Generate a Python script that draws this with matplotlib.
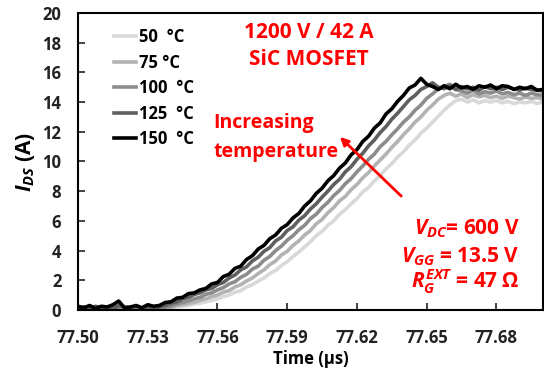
import numpy as np
import matplotlib.pyplot as plt

plt.rcParams['font.family'] = ['Open Sans', 'DejaVu Sans']
plt.rcParams['mathtext.fontset'] = 'custom'
plt.rcParams['mathtext.it'] = 'Open Sans:italic:bold'
plt.rcParams['mathtext.rm'] = 'Open Sans:bold'
plt.rcParams['mathtext.bf'] = 'Open Sans:bold'

# time grid (us), 0.0025 us step
t = 77.50 + 0.0025 * np.arange(81)

i_50 = [0.05, 0.1, 0.05, 0.0, 0.1, 0.05, 0.1, 0.05, 0.0, 0.1, 0.05, 0.1, 0.05, 0.0,
        0.05, 0.1, 0.15, 0.2, 0.25, 0.3, 0.4,
        0.45, 0.55, 0.65, 0.75, 0.9, 1.0, 1.2, 1.3, 1.55, 1.7,
        1.95, 2.15, 2.45, 2.65, 3.0, 3.25, 3.6, 3.9, 4.25, 4.6,
        5.0, 5.3, 5.7, 6.0, 6.45, 6.75, 7.15, 7.5, 7.95, 8.25,
        8.7, 9.05, 9.5, 9.85, 10.3, 10.65, 11.1, 11.45, 11.9, 12.25,
        12.65, 13.05, 13.45, 13.8, 14.1, 14.2, 14.0, 14.15, 13.95, 14.1,
        14.0, 14.1, 13.95, 14.05, 13.9, 14.0, 13.95, 14.05, 13.9, 14.0]
i_75 = [0.1, 0.05, 0.1, 0.15, 0.05, 0.1, 0.05, 0.15, 0.1, 0.05, 0.15, 0.1, 0.05, 0.1,
        0.1, 0.15, 0.2, 0.3, 0.35, 0.45, 0.5,
        0.65, 0.75, 0.9, 1.0, 1.2, 1.3, 1.55, 1.7, 1.95, 2.15,
        2.45, 2.7, 3.05, 3.3, 3.7, 3.95, 4.35, 4.65, 5.05, 5.35,
        5.8, 6.1, 6.55, 6.9, 7.35, 7.65, 8.1, 8.45, 8.9, 9.25,
        9.7, 10.1, 10.5, 10.95, 11.35, 11.8, 12.2, 12.65, 13.0, 13.45,
        13.8, 14.2, 14.45, 14.6, 14.4, 14.55, 14.3, 14.5, 14.35, 14.45,
        14.3, 14.4, 14.25, 14.4, 14.3, 14.2, 14.35, 14.25, 14.3, 14.2]
i_100 = [0.1, 0.15, 0.05, 0.2, 0.1, 0.15, 0.1, 0.2, 0.15, 0.1, 0.2, 0.05, 0.15, 0.1,
         0.15, 0.2, 0.25, 0.4, 0.5, 0.6, 0.75,
         0.85, 1.05, 1.15, 1.35, 1.5, 1.75, 1.9, 2.2, 2.4, 2.75,
         2.95, 3.35, 3.6, 4.0, 4.3, 4.7, 5.0, 5.4, 5.7, 6.15,
         6.45, 6.9, 7.25, 7.7, 8.05, 8.5, 8.85, 9.3, 9.7, 10.15,
         10.5, 11.0, 11.35, 11.8, 12.2, 12.65, 13.0, 13.45, 13.8, 14.25,
         14.55, 14.9, 15.05, 15.2, 14.85, 14.75, 14.6, 14.8, 14.55, 14.7,
         14.6, 14.75, 14.55, 14.65, 14.5, 14.6, 14.45, 14.6, 14.5, 14.45]
i_125 = [0.15, 0.2, 0.1, 0.25, 0.15, 0.2, 0.1, 0.3, 0.2, 0.15, 0.25, 0.1, 0.2, 0.15,
         0.2, 0.3, 0.45, 0.55, 0.75, 0.85, 1.05,
         1.15, 1.35, 1.45, 1.7, 1.85, 2.15, 2.35, 2.7, 2.9, 3.3,
         3.55, 3.95, 4.2, 4.65, 4.9, 5.35, 5.6, 6.05, 6.35, 6.8,
         7.15, 7.6, 8.0, 8.45, 8.8, 9.3, 9.65, 10.15, 10.55, 11.05,
         11.45, 11.95, 12.35, 12.85, 13.25, 13.7, 14.15, 14.45, 14.85, 15.05,
         15.3, 15.0, 14.9, 15.1, 14.85, 15.05, 14.9, 15.0, 14.8, 15.05,
         14.9, 15.0, 14.85, 15.0, 14.9, 14.8, 14.95, 14.85, 14.8, 14.75]
i_150 = [0.25, 0.15, 0.3, 0.1, 0.25, 0.2, 0.35, 0.6, 0.15, 0.2, 0.3, 0.15, 0.35, 0.25,
         0.3, 0.5, 0.55, 0.8, 0.85, 1.1, 1.15,
         1.35, 1.45, 1.75, 1.85, 2.25, 2.4, 2.8, 2.95, 3.4, 3.65,
         4.1, 4.35, 4.8, 5.05, 5.5, 5.75, 6.2, 6.5, 7.0, 7.35,
         7.85, 8.2, 8.7, 9.05, 9.55, 9.9, 10.45, 10.8, 11.35, 11.7,
         12.25, 12.6, 13.2, 13.55, 14.05, 14.45, 14.95, 15.15, 15.6, 15.2,
         15.05, 14.85, 15.1, 14.9, 15.2, 14.95, 15.05, 14.85, 15.1, 15.0,
         15.15, 14.9, 15.1, 15.05, 14.85, 15.0, 14.9, 15.05, 14.8, 14.85]

labels = ['50  °C', '75 °C', '100  °C', '125  °C', '150  °C']
colors = ['#d9d9d9', '#b3b3b3', '#8c8c8c', '#5f5f5f', '#000000']
series = [i_50, i_75, i_100, i_125, i_150]

xticks = [77.50, 77.53, 77.56, 77.59, 77.62, 77.65, 77.68]

fig = plt.figure(figsize=(5.44, 3.78), dpi=100)
ax = fig.add_axes([0.1434, 0.18, 0.8546, 0.7856])

for y, c, lab in zip(series, colors, labels):
    ax.plot(t, y, color=c, lw=2.6, label=lab)

ax.set_xlim(77.50, 77.70)
ax.set_ylim(0, 20)
ax.set_xticks(xticks)
ax.set_xticklabels(['%.2f' % v for v in xticks])
ax.set_yticks(range(0, 21, 2))
ax.tick_params(direction='in', length=5, width=1.2, labelsize=12, colors='#222222')
ax.tick_params(axis='x', pad=14)
ax.tick_params(axis='y', pad=12)
for lbl in ax.get_xticklabels() + ax.get_yticklabels():
    lbl.set_fontweight('bold')
for s in ax.spines.values():
    s.set_linewidth(1.5)
    s.set_color('black')

ax.set_xlabel('Time (µs)', fontsize=12, fontweight='bold', labelpad=2)
ax.set_ylabel('$I_{DS}$ (A)', fontsize=15, fontweight='bold', labelpad=4)

ax.legend(loc='upper left', bbox_to_anchor=(0.045, 1.0), frameon=False,
          handlelength=1.3, handletextpad=0.2, labelspacing=0.45,
          prop={'weight': 'bold', 'size': 12})

red = '#ff0000'
ax.text(77.5993, 18.7, '1200 V / 42 A', color=red, fontsize=15, fontweight='bold', ha='center', va='center')
ax.text(77.5993, 16.9, 'SiC MOSFET', color=red, fontsize=15, fontweight='bold', ha='center', va='center')
ax.text(77.5583, 12.6, 'Increasing', color=red, fontsize=14, fontweight='bold', ha='left', va='center')
ax.text(77.5583, 10.65, 'temperature', color=red, fontsize=14, fontweight='bold', ha='left', va='center')
ax.annotate('', xy=(77.6118, 11.78), xytext=(77.6399, 7.54),
            arrowprops=dict(arrowstyle='-|>', color=red, lw=2, mutation_scale=12))

ax.text(77.690, 5.5, '$V_{DC}$= 600 V', color=red, fontsize=15, fontweight='bold', ha='right', va='center')
ax.text(77.690, 3.57, '$V_{GG}$ = 13.5 V', color=red, fontsize=15, fontweight='bold', ha='right', va='center')
ax.text(77.690, 1.9, '$R_G^{EXT}$ = 47 Ω', color=red, fontsize=15, fontweight='bold', ha='right', va='center')

fig.savefig('out.png', dpi=100)
